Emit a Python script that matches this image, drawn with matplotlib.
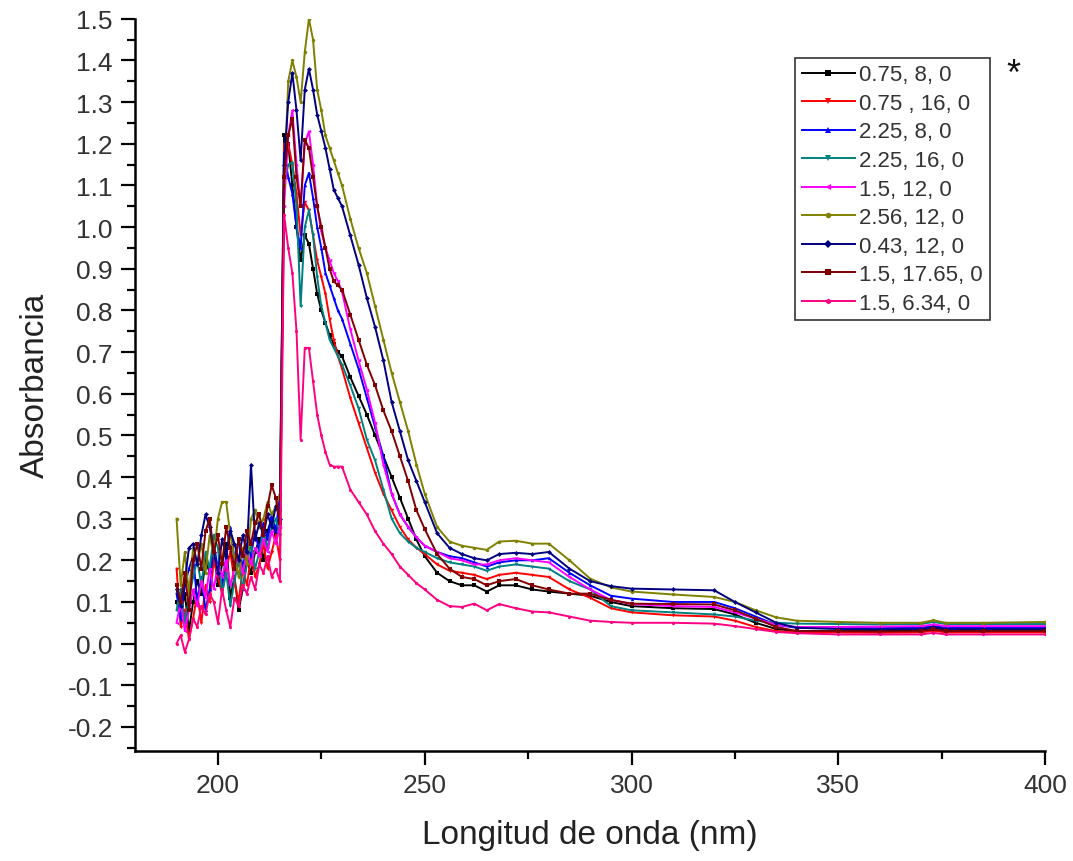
import numpy as np
import matplotlib
matplotlib.use("Agg")
import matplotlib.pyplot as plt
from matplotlib.ticker import MultipleLocator

plt.rcParams["font.family"] = ["Liberation Sans", "DejaVu Sans"]

# wavelength grid (nm)
wavelength = (list(range(190, 231))
              + [232, 234, 236, 238, 240, 242, 244, 246, 248, 250,
                 253, 256, 259, 262, 265, 268, 272, 276, 280, 285,
                 290, 295, 300, 310, 320, 325, 330, 335, 340, 350,
                 360, 370, 373, 376, 385, 400])

# 190-215 nm (noisy), 216-230 nm (peaks), then the tail
abs_075_8 = [0.10, 0.07, 0.12, 0.03, 0.10, 0.15, 0.12, 0.20, 0.17, 0.22, 0.14, 0.19, 0.24,
             0.11, 0.16, 0.08, 0.13, 0.20, 0.17, 0.22, 0.25, 0.20, 0.27, 0.30, 0.26, 0.32,
             1.22, 1.20, 1.10, 1.00, 0.92, 0.98, 0.96, 0.90, 0.84, 0.80, 0.77, 0.74, 0.72, 0.70, 0.69,
             0.64, 0.595, 0.55, 0.50, 0.45, 0.40, 0.35, 0.30, 0.25, 0.21,
             0.17, 0.15, 0.14, 0.14, 0.125, 0.14, 0.14, 0.13, 0.125, 0.12,
             0.115, 0.10, 0.09, 0.085, 0.083, 0.07, 0.05, 0.035, 0.03, 0.03,
             0.031, 0.032, 0.036, 0.032, 0.032, 0.032]
abs_075_16 = [0.18, 0.04, 0.08, 0.01, 0.06, 0.12, 0.05, 0.14, 0.10, 0.20, 0.16, 0.12, 0.18,
              0.22, 0.15, 0.10, 0.18, 0.14, 0.21, 0.16, 0.19, 0.24, 0.18, 0.22, 0.26, 0.20,
              1.20, 1.20, 1.15, 1.08, 0.98, 1.06, 1.04, 0.98, 0.92, 0.88, 0.84, 0.78, 0.73, 0.69, 0.66,
              0.59, 0.53, 0.47, 0.41, 0.36, 0.32, 0.28, 0.25, 0.23, 0.215,
              0.19, 0.175, 0.17, 0.165, 0.155, 0.165, 0.17, 0.165, 0.16, 0.13,
              0.11, 0.085, 0.075, 0.068, 0.065, 0.055, 0.04, 0.03, 0.027, 0.027,
              0.026, 0.027, 0.031, 0.027, 0.027, 0.027]
abs_225_8 = [0.12, 0.06, 0.14, 0.18, 0.21, 0.10, 0.16, 0.08, 0.13, 0.24, 0.18, 0.14, 0.21,
             0.28, 0.20, 0.25, 0.18, 0.24, 0.21, 0.27, 0.22, 0.29, 0.25, 0.31, 0.27, 0.36,
             1.18, 1.12, 1.08, 1.00, 0.95, 1.10, 1.13, 1.07, 1.00, 0.95, 0.89, 0.86, 0.83, 0.80, 0.78,
             0.72, 0.66, 0.59, 0.52, 0.45, 0.36, 0.31, 0.28, 0.255, 0.235,
             0.22, 0.21, 0.205, 0.195, 0.185, 0.195, 0.20, 0.20, 0.205, 0.17,
             0.14, 0.115, 0.108, 0.10, 0.10, 0.085, 0.065, 0.045, 0.038, 0.038,
             0.037, 0.038, 0.042, 0.038, 0.038, 0.038]
abs_225_16 = [0.08, 0.13, 0.05, 0.11, 0.16, 0.20, 0.14, 0.22, 0.18, 0.26, 0.23, 0.12, 0.17,
              0.09, 0.15, 0.20, 0.13, 0.19, 0.24, 0.18, 0.22, 0.27, 0.23, 0.28, 0.30, 0.26,
              1.10, 1.15, 1.155, 1.05, 0.81, 1.00, 1.04, 0.98, 0.88, 0.81, 0.77, 0.73, 0.71, 0.69, 0.67,
              0.62, 0.565, 0.49, 0.44, 0.37, 0.30, 0.265, 0.245, 0.23, 0.22,
              0.205, 0.195, 0.19, 0.185, 0.175, 0.185, 0.19, 0.185, 0.18, 0.15,
              0.13, 0.09, 0.08, 0.075, 0.07, 0.065, 0.055, 0.05, 0.048, 0.047,
              0.046, 0.047, 0.052, 0.047, 0.047, 0.047]
abs_15_12 = [0.05, 0.10, 0.03, 0.08, 0.13, 0.09, 0.15, 0.11, 0.18, 0.13, 0.19, 0.16, 0.20,
             0.14, 0.18, 0.21, 0.17, 0.22, 0.19, 0.23, 0.21, 0.25, 0.22, 0.27, 0.24, 0.28,
             1.05, 1.22, 1.28, 1.15, 1.05, 1.20, 1.23, 1.15, 1.05, 0.99, 0.95, 0.92, 0.89, 0.87, 0.845,
             0.755, 0.68, 0.61, 0.53, 0.43, 0.36, 0.31, 0.28, 0.255, 0.235,
             0.22, 0.205, 0.20, 0.19, 0.19, 0.20, 0.205, 0.20, 0.195, 0.16,
             0.13, 0.105, 0.095, 0.09, 0.088, 0.075, 0.06, 0.045, 0.04, 0.04,
             0.041, 0.042, 0.046, 0.042, 0.042, 0.042]
abs_256_12 = [0.30, 0.14, 0.22, 0.12, 0.23, 0.19, 0.24, 0.17, 0.26, 0.21, 0.30, 0.34, 0.34,
              0.26, 0.21, 0.16, 0.23, 0.19, 0.30, 0.32, 0.28, 0.30, 0.34, 0.31, 0.33, 0.36,
              1.10, 1.35, 1.40, 1.36, 1.30, 1.42, 1.50, 1.45, 1.33, 1.28, 1.22, 1.19, 1.16, 1.13, 1.10,
              1.02, 0.95, 0.89, 0.81, 0.73, 0.65, 0.58, 0.51, 0.43, 0.36,
              0.28, 0.245, 0.235, 0.23, 0.225, 0.245, 0.247, 0.24, 0.24, 0.20,
              0.156, 0.135, 0.125, 0.118, 0.112, 0.10, 0.08, 0.063, 0.055, 0.052,
              0.05, 0.05, 0.056, 0.05, 0.05, 0.052]
abs_043_12 = [0.13, 0.09, 0.15, 0.23, 0.24, 0.19, 0.26, 0.31, 0.28, 0.22, 0.17, 0.25, 0.21,
              0.27, 0.24, 0.20, 0.26, 0.22, 0.43, 0.25, 0.29, 0.26, 0.31, 0.28, 0.33, 0.30,
              1.15, 1.30, 1.37, 1.28, 1.16, 1.33, 1.38, 1.33, 1.27, 1.23, 1.19, 1.14, 1.09, 1.07, 1.05,
              0.98, 0.91, 0.83, 0.76, 0.68, 0.58, 0.51, 0.44, 0.39, 0.34,
              0.265, 0.23, 0.215, 0.205, 0.20, 0.215, 0.218, 0.215, 0.22, 0.18,
              0.15, 0.138, 0.132, 0.13, 0.128, 0.10, 0.075, 0.05, 0.038, 0.035,
              0.034, 0.035, 0.04, 0.035, 0.035, 0.035]
abs_15_1765 = [0.14, 0.10, 0.17, 0.08, 0.20, 0.24, 0.18, 0.27, 0.30, 0.22, 0.26, 0.19, 0.28,
               0.23, 0.18, 0.25, 0.21, 0.27, 0.24, 0.29, 0.31, 0.26, 0.33, 0.38, 0.35, 0.29,
               1.12, 1.22, 1.26, 1.12, 1.05, 1.21, 1.19, 1.12, 1.05, 1.00, 0.95, 0.90, 0.87, 0.86, 0.85,
               0.79, 0.73, 0.67, 0.62, 0.56, 0.51, 0.45, 0.39, 0.32, 0.275,
               0.215, 0.18, 0.16, 0.155, 0.14, 0.15, 0.155, 0.14, 0.13, 0.12,
               0.12, 0.105, 0.096, 0.095, 0.094, 0.08, 0.06, 0.04, 0.03, 0.03,
               0.029, 0.03, 0.034, 0.03, 0.03, 0.03]
abs_15_634 = [0.00, 0.02, -0.02, 0.01, 0.06, 0.04, 0.09, 0.07, 0.12, 0.10, 0.05, 0.13, 0.08,
              0.04, 0.11, 0.09, 0.14, 0.12, 0.16, 0.13, 0.19, 0.17, 0.21, 0.16, 0.18, 0.15,
              1.03, 0.95, 0.89, 0.75, 0.49, 0.71, 0.71, 0.63, 0.55, 0.50, 0.46, 0.43, 0.425, 0.425, 0.425,
              0.37, 0.34, 0.31, 0.27, 0.24, 0.215, 0.185, 0.165, 0.145, 0.13,
              0.105, 0.09, 0.088, 0.096, 0.08, 0.095, 0.085, 0.077, 0.075, 0.065,
              0.055, 0.052, 0.05, 0.05, 0.048, 0.042, 0.035, 0.028, 0.025, 0.022,
              0.022, 0.022, 0.026, 0.022, 0.022, 0.022]

labels = ["0.75, 8, 0", "0.75 , 16, 0", "2.25, 8, 0", "2.25, 16, 0", "1.5, 12, 0",
          "2.56, 12, 0", "0.43, 12, 0", "1.5, 17.65, 0", "1.5, 6.34, 0"]
series = [abs_075_8, abs_075_16, abs_225_8, abs_225_16, abs_15_12,
          abs_256_12, abs_043_12, abs_15_1765, abs_15_634]
colors = ["#000000", "#FF0000", "#0000FF", "#008080", "#FF00FF",
          "#808000", "#000080", "#800000", "#FF0080"]
markers = ["s", "v", "^", "v", "<", "o", "D", "s", "h"]

fig = plt.figure(figsize=(10.73, 8.62), dpi=100)
ax = fig.add_axes([0.126, 0.128, 0.848, 0.849])

for y, lab, c, m in zip(series, labels, colors, markers):
    ax.plot(wavelength, y, color=c, lw=1.4, marker=m, markersize=2.5,
            markeredgewidth=0, label=lab)

ax.set_xlim(180, 400)
ax.set_ylim(-0.257, 1.5)
ax.xaxis.set_major_locator(MultipleLocator(50))
ax.xaxis.set_minor_locator(MultipleLocator(25))
ax.yaxis.set_minor_locator(MultipleLocator(0.05))
yticks = np.round(np.arange(-0.2, 1.51, 0.1), 2)
ax.set_yticks(yticks)
ax.set_yticklabels([f"{v:.1f}" for v in yticks])

for side in ["top", "right"]:
    ax.spines[side].set_visible(False)
for side in ["left", "bottom"]:
    ax.spines[side].set_linewidth(1.8)

ax.tick_params(which="major", direction="out", length=10, width=1.6,
               labelsize=19, labelcolor="#333333", pad=6)
ax.tick_params(which="minor", direction="out", length=5.5, width=1.6)

ax.set_xlabel("Longitud de onda (nm)", fontsize=24, color="#222222", labelpad=16)
ax.set_ylabel("Absorbancia", fontsize=24, color="#222222", labelpad=12)

leg = ax.legend(loc="upper left", bbox_to_anchor=(0.725, 0.947), borderaxespad=0,
                fontsize=16, handlelength=2.4, handletextpad=0.2, borderpad=0.3,
                labelspacing=0.34, fancybox=False, framealpha=1, markerscale=1.6)
leg.get_frame().set_edgecolor("#333333")
leg.get_frame().set_linewidth(1.2)
for t in leg.get_texts():
    t.set_color("#333333")

fig.text(0.944, 0.912, "*", fontsize=26, ha="center", va="center", color="#111111")

fig.savefig("out.png", dpi=100)
